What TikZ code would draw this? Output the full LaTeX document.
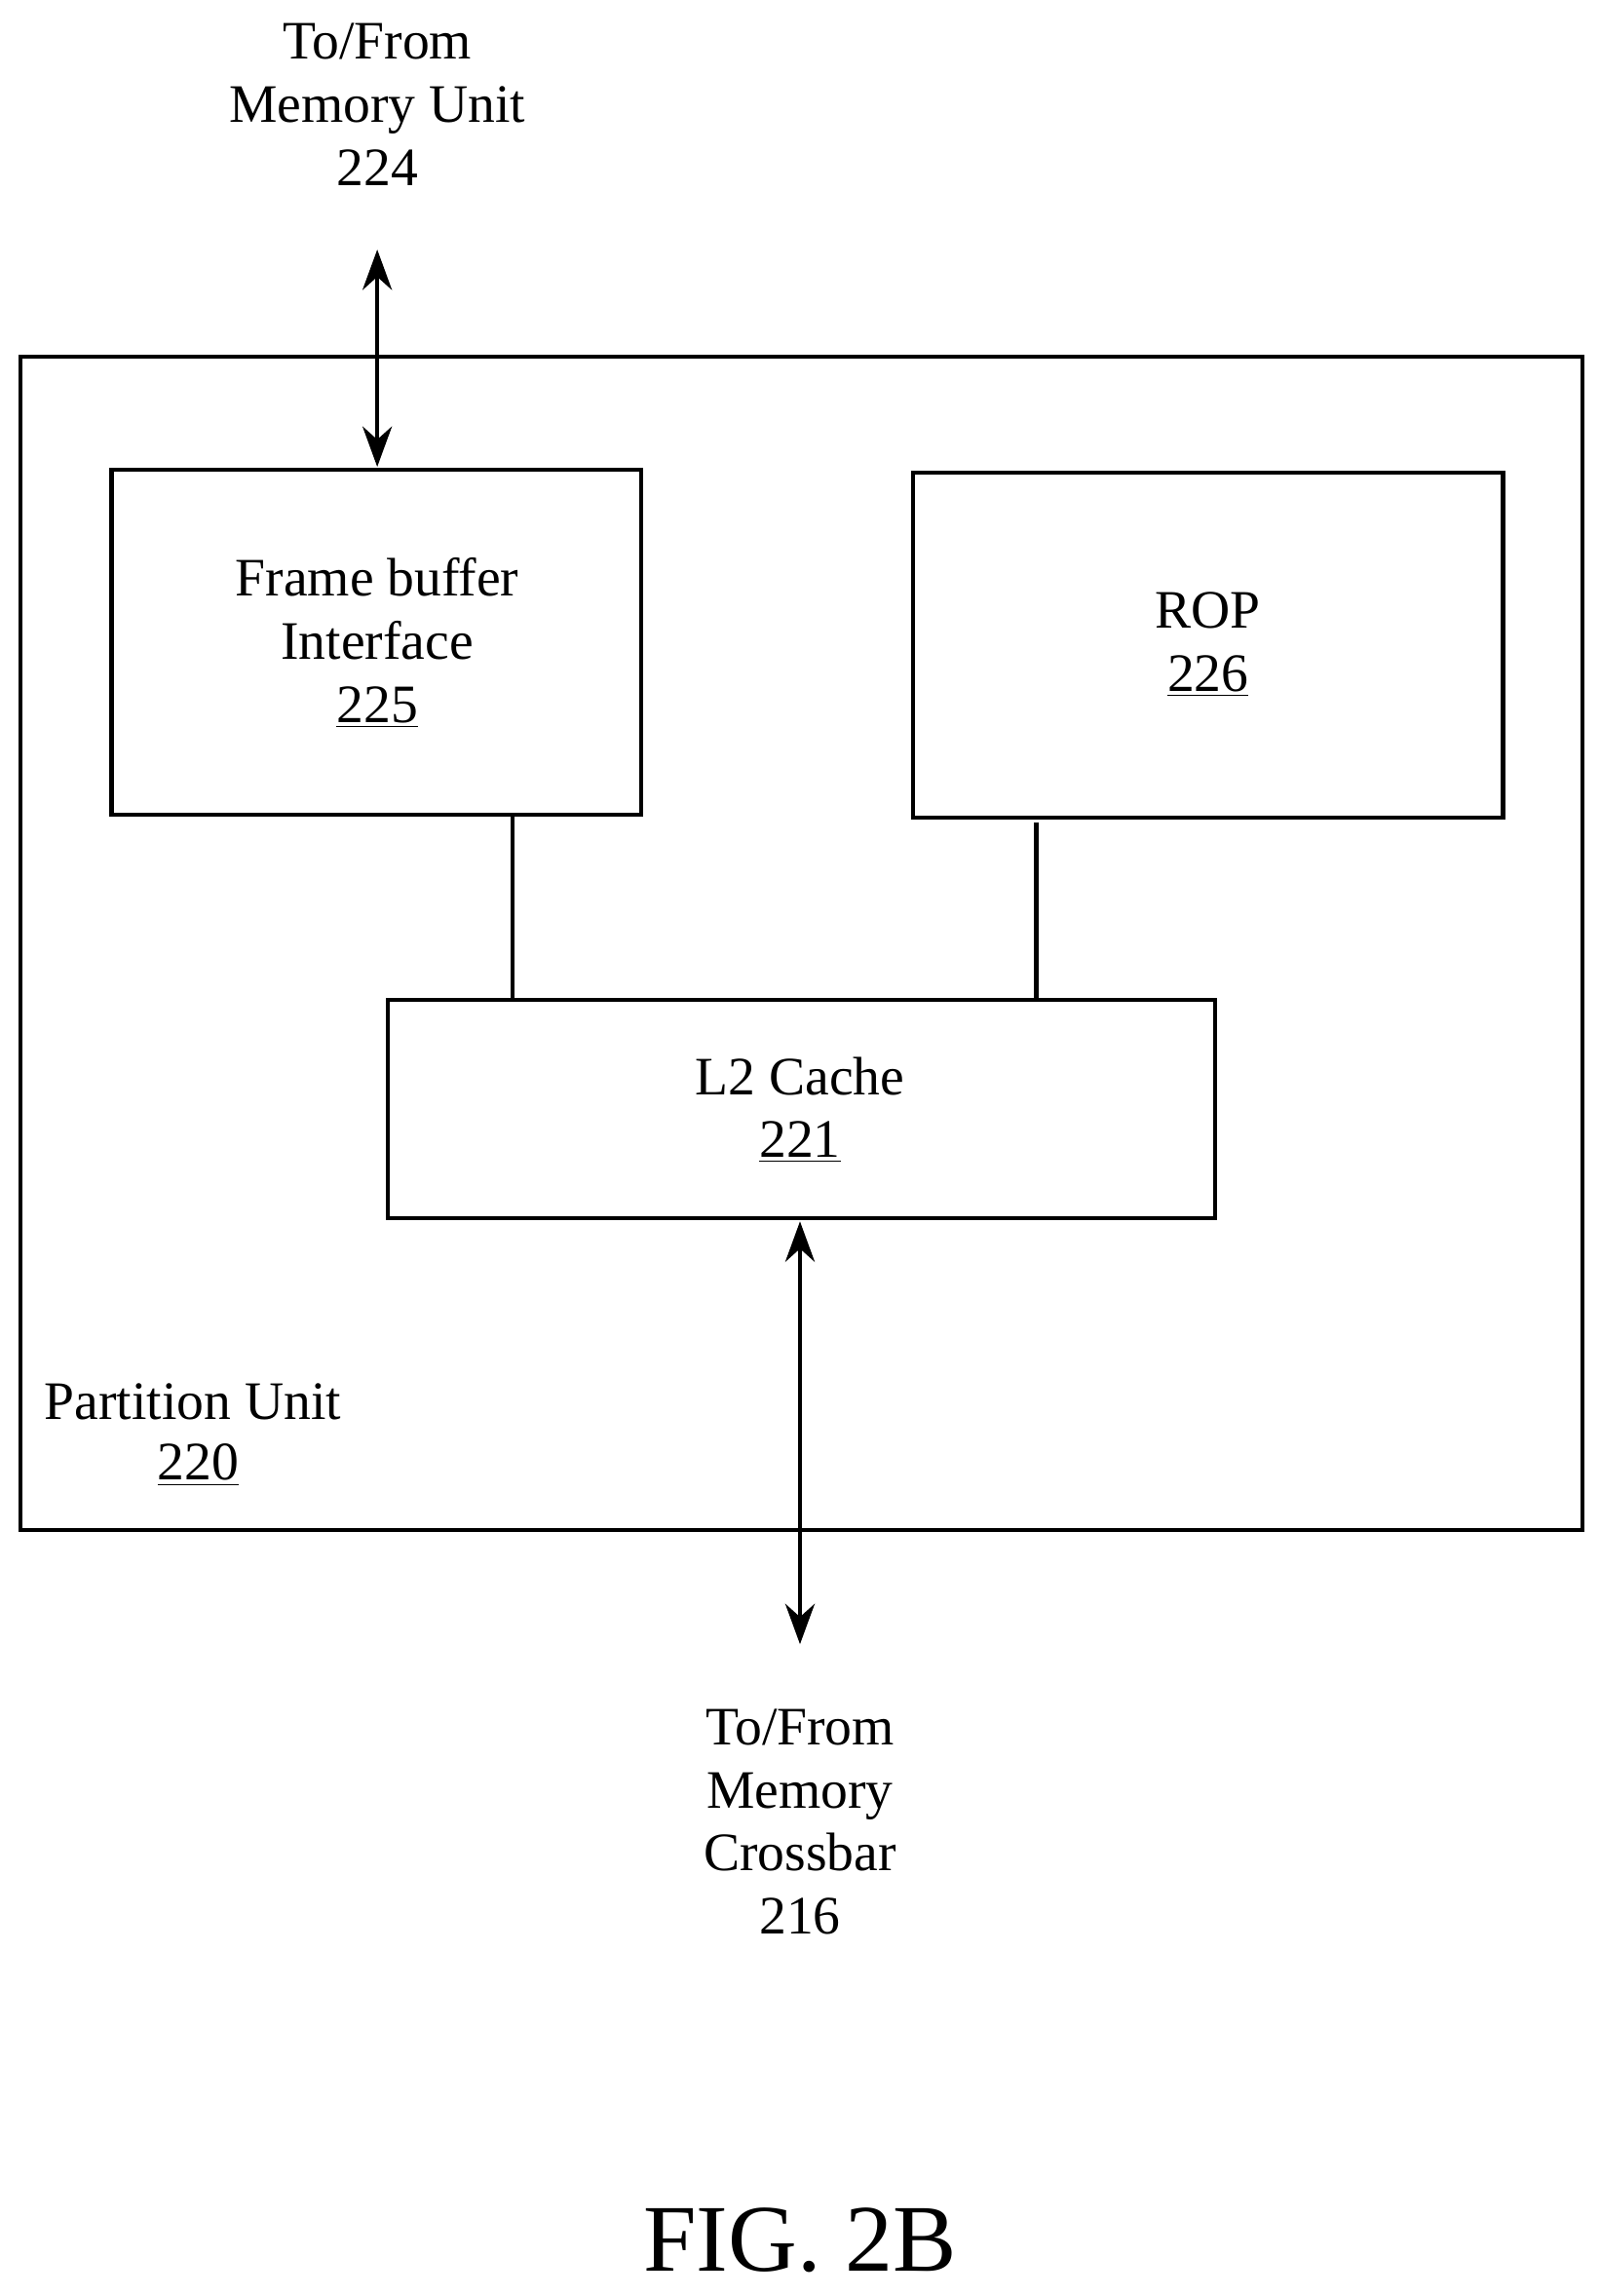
\documentclass[tikz,border=0pt]{standalone}
\usepackage{fontspec}
\setmainfont{Liberation Serif}
\usetikzlibrary{arrows.meta}
\begin{document}
\begin{tikzpicture}[x=0.02cm,y=-0.02cm,
  box/.style={draw,line width=1.6pt},
  txt/.style={align=center,font=\fontsize{21}{24.5}\selectfont,inner sep=0pt},
  conn/.style={line width=1.6pt},
  arr/.style={line width=1.6pt,{Stealth[length=0.55cm,width=0.4cm]}-{Stealth[length=0.55cm,width=0.4cm]}}]
\useasboundingbox (0,0) rectangle (1090,1564);
\draw[box] (14,243) rectangle (1078,1042);
\draw[box] (76,320) rectangle (437,555);
\draw[box] (622,322) rectangle (1024,557);
\draw[box] (264,681) rectangle (828,830);
\coordinate (fbt) at (257,318);
\coordinate (top) at (257,170);
\coordinate (l2b) at (545,832);
\coordinate (bot) at (545,1120);
\node[txt] (fb) at (257,438) {Frame buffer\\Interface\\\underline{225}};
\node[txt] (rop) at (823,439) {ROP\\\underline{226}};
\node[txt] (l2) at (545,756) {L2 Cache\\\underline{221}};
\node[txt] (mu) at (257,71) {To/From\\Memory Unit\\224};
\node[txt] (mc) at (545,1241) {To/From\\Memory\\Crossbar\\216};
\node[txt,align=left,anchor=west] (pu) at (30,955) {Partition Unit};
\node[txt] (pun) at (135,998) {\underline{220}};
\node[font=\fontsize{37}{40}\selectfont,inner sep=0pt] (fig) at (545,1526) {FIG. 2B};
\draw[conn] (349,555) -- (349,681);
\draw[conn] (706,560) -- (706,681);
\draw[arr] (top) -- (fbt);
\draw[arr] (l2b) -- (bot);
\end{tikzpicture}
\end{document}
